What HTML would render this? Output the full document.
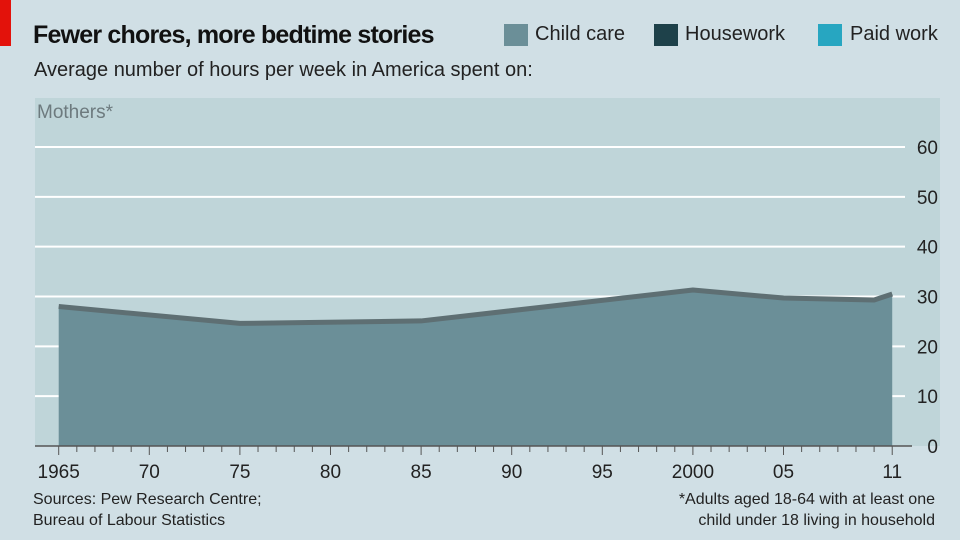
<!DOCTYPE html>
<html><head><meta charset="utf-8"><style>
body{margin:0;width:960px;height:540px;background:#d0dfe5;font-family:"Liberation Sans",sans-serif;overflow:hidden;position:relative}
.t{position:absolute;white-space:nowrap}
</style></head><body>
<div style="position:absolute;left:0;top:0;width:11px;height:46px;background:#e3120b"></div>
<div class="t" style="left:33px;top:21px;font-size:25px;font-weight:bold;color:#111;letter-spacing:-0.8px">Fewer chores, more bedtime stories</div>
<div class="t" style="left:34px;top:59px;font-size:20px;color:#222">Average number of hours per week in America spent on:</div>
<div>
<div style="position:absolute;left:504px;top:24px;width:24px;height:22px;background:#6b8f98"></div>
<div class="t" style="left:535px;top:23px;font-size:20px;color:#222">Child care</div>
<div style="position:absolute;left:654px;top:24px;width:24px;height:22px;background:#1e414a"></div>
<div class="t" style="left:685px;top:23px;font-size:20px;color:#222">Housework</div>
<div style="position:absolute;left:818px;top:24px;width:24px;height:22px;background:#27a6c1"></div>
<div class="t" style="left:850px;top:23px;font-size:20px;color:#222">Paid work</div>
</div>
<svg id="chart" width="960" height="540" style="position:absolute;left:0;top:0"></svg>
<div class="t" style="left:33px;top:489px;font-size:16px;color:#222;line-height:21px">Sources: Pew Research Centre;<br>Bureau of Labour Statistics</div>
<div class="t" style="right:25px;top:489px;font-size:16px;color:#222;line-height:21px;text-align:right">*Adults aged 18-64 with at least one<br>child under 18 living in household</div>
<script>
const years=[1965,1975,1985,2000,2005,2010,2011];
const childCare=[28,24.6,25.1,31.3,29.7,29.3,30.5];
const yTicks=[0,10,20,30,40,50,60];
const xTickYears=[1965,1970,1975,1980,1985,1990,1995,2000,2005,2011];
const xTickLabels=["1965","70","75","80","85","90","95","2000","05","11"];
const NS="http://www.w3.org/2000/svg";
const svg=document.getElementById('chart');
const x=v=>58.7+(v-1965)*18.12;
const y=v=>446-v*4.983;
function mk(tag,attrs){const e=document.createElementNS(NS,tag);for(const k in attrs)e.setAttribute(k,attrs[k]);svg.appendChild(e);return e;}
let e=mk('rect',{x:35,y:98,width:905,height:348,fill:'#bfd5d9'});


yTicks.forEach(t=>{
 if(t>0){const g=mk('line',{x1:35,x2:905,y1:y(t),y2:y(t),stroke:'#fff','stroke-width':2});
 
 }
 const l=mk('text',{x:938,y:y(t)+7,'text-anchor':'end','font-size':19,fill:'#222','font-family':'Liberation Sans'});
 l.textContent=t;
 
 
});
let pts=years.map((v,i)=>x(v)+','+y(childCare[i]));
let a=mk('polygon',{points:x(years[0])+','+y(0)+' '+pts.join(' ')+' '+x(years[years.length-1])+','+y(0),fill:'#6b8f98'});


let ln=mk('polyline',{points:pts.join(' '),fill:'none',stroke:'#5e6f73','stroke-width':5,'stroke-linejoin':'round'});


let ax=mk('line',{x1:35,x2:912,y1:446,y2:446,stroke:'#555','stroke-width':1.5});


for(let yr=1965;yr<=2011;yr++){
 const major=xTickYears.includes(yr);
 const tk=mk('line',{x1:x(yr),x2:x(yr),y1:446,y2:major?455:452,stroke:'#555','stroke-width':1});
 
 
}
xTickYears.forEach((yr,i)=>{
 const l=mk('text',{x:x(yr),y:478,'text-anchor':'middle','font-size':19,fill:'#222','font-family':'Liberation Sans'});
 l.textContent=xTickLabels[i];
 
 
});
let p=mk('text',{x:37,y:118,'font-size':19,fill:'#6d7a7e','font-family':'Liberation Sans'});
p.textContent='Mothers*';


</script>
</body></html>
